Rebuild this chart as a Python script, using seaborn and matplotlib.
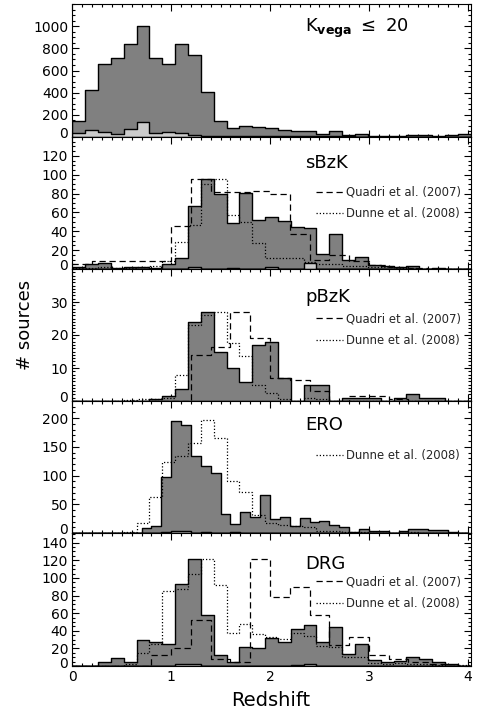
import numpy as np
import pandas as pd
import matplotlib
matplotlib.use("Agg")
import matplotlib.pyplot as plt
import seaborn as sns
from matplotlib.lines import Line2D
from matplotlib.ticker import MultipleLocator, FixedLocator
from matplotlib.transforms import ScaledTranslation

# ---------------- data (counts per bin) ----------------
BIN_MAIN = 0.13      # bin width of this work and Dunne et al.
BIN_QUADRI = 0.20    # bin width of Quadri et al.
BIN_ERO = 0.10       # bin width of the ERO sample

k20_dark = [140, 420, 660, 710, 840, 1000, 710, 660, 840, 740, 410, 140, 80, 100, 90,
            80, 60, 50, 55, 30, 50, 20, 25, 5, 5, 5, 15, 15, 5, 15, 30]
k20_light = [36, 66, 45, 30, 75, 134, 36, 45, 36, 15, 12, 10, 10, 10, 8, 8, 8, 6, 6,
             6, 5, 5, 4, 4, 4, 3, 3, 3, 3, 3, 3]

sbzk_dark = [2.5, 5, 6, 1, 2, 2, 1.5, 5, 12, 67, 95, 80, 49, 81, 52, 55, 51, 45, 44,
             16, 37, 10, 13, 4, 3, 2, 3, 0.5, 1, 0.5, 0]
sbzk_light = [0.5, 0.5, 0.5, 0.5, 0.5, 0.5, 0.5, 0.5, 0.5, 2, 0.5, 0.5, 1.5, 0.5, 0.5,
              2, 0.5, 0.5, 6, 0.5, 0.5, 0.5, 0.5, 0, 0, 0, 0, 0, 0, 0, 0]
sbzk_dunne = [1, 1, 2, 1, 1, 2, 3, 8, 29, 47, 90, 95, 57, 50, 28, 12, 12, 12, 7, 5, 5,
              3, 3, 2, 2, 1, 1, 0.5, 0.5, 0.5, 0]
sbzk_quadri = [5, 8, 8, 8, 8, 46, 95, 82, 82, 83, 80, 37, 10, 15, 8, 4, 2, 1, 0.5, 0.5]

pbzk_dark = [0, 0, 0, 0, 0, 0, 0.7, 1.5, 3.5, 24, 27, 15, 10, 5.7, 17, 18, 7, 0, 4.7,
             4.7, 0, 1, 1, 1, 0, 1, 2, 1, 1, 0, 0]
pbzk_dunne = [0, 0, 0, 0, 0.3, 0.5, 0.5, 1, 8, 23, 26, 27, 17.5, 13.5, 5, 2.5, 0.5, 0,
              1, 0.5, 0, 0, 0, 0, 0, 0, 0, 0, 0, 0, 0]
pbzk_quadri = [0, 0, 0, 0, 0, 0, 14, 16.5, 27, 19, 7, 6.5, 3, 0, 1.5, 1.5, 0.5, 0, 0, 0]

ero_dark = [0, 0, 0, 0, 0, 0, 0, 8, 13, 97, 196, 188, 134, 116, 104, 33, 16, 37, 28, 66,
            24, 28, 13, 26, 19, 21, 14, 11, 1, 7, 3, 3, 0, 4, 7, 7, 5, 5, 1, 0.5]
ero_light = [0, 0, 0, 0, 0, 0, 0, 0, 0, 2, 4, 4, 0, 2, 0, 0, 2, 0, 0, 0,
             0, 0, 0, 0, 0, 0, 0, 0, 0, 0, 0, 0, 0, 0, 0, 0, 0, 0, 0, 0]
ero_dunne = [0, 0, 0, 0, 1, 18, 63, 124, 135, 157, 197, 165, 91, 72, 31, 17, 14, 13, 10,
             3.5, 3, 2, 1, 0.5, 0.5, 0.5, 1, 0.5, 0.5, 0, 0]

drg_dark = [0, 0, 4, 8.6, 5, 29, 27, 25, 93, 122, 58, 13, 5, 22, 20, 32, 27, 42, 47, 27,
            44, 14, 25, 7, 5, 6, 10, 8, 5, 2, 0]
drg_light = [0, 0, 0, 0, 0, 0, 0, 0, 2, 2, 0, 0, 0, 0, 0, 0, 0, 1.5, 2, 0,
             0, 0, 0, 0, 0, 0, 0, 0, 0, 0, 0]
drg_dunne = [0, 0, 0, 0, 2, 15, 25, 85, 87, 105, 122, 92, 38, 48, 36, 33, 31, 37, 34, 23,
             22, 10, 10, 3, 2, 3, 2, 2, 1, 0.5, 1]
drg_quadri = [0, 0, 0, 0, 12, 20, 52, 8, 4, 122, 78, 90, 58, 24, 33, 13, 8, 5, 2, 0]

panel_names = [r"K$_{\bf vega}$ $\leq$ 20", "sBzK", "pBzK", "ERO", "DRG"]
x_ticks = [0, 1, 2, 3, 4]
y_limits = [1200, 140, 40, 230, 151]
y_ticks = [[0, 200, 400, 600, 800, 1000], [0, 20, 40, 60, 80, 100, 120],
           [0, 10, 20, 30], [0, 50, 100, 150, 200], [0, 20, 40, 60, 80, 100, 120, 140]]
y_minor = [50, 5, 1, 10, 5]
lab_quadri = "Quadri et al. (2007)"
lab_dunne = "Dunne et al. (2008)"

# ---------------- style ----------------
sns.set_theme(style="ticks")
plt.rcParams['font.family'] = ['DejaVu Sans']
plt.rcParams['axes.linewidth'] = 0.8

DARK = "#808080"
LIGHT = "#cccccc"
DASH = (0, (5, 3))
DOT = (0, (1, 1.6))


def edges(width, n):
    return [round(k * width, 3) for k in range(n + 1)]


def hist(ax, counts, width, fill=None, ls="-", lw=1.0):
    e = edges(width, len(counts))
    centers = [(e[k] + e[k + 1]) / 2 for k in range(len(counts))]
    df = pd.DataFrame({"z": centers, "n": counts})
    if fill is not None:
        sns.histplot(data=df, x="z", weights="n", bins=e, element="step", fill=True,
                     color=fill, facecolor=fill, edgecolor="black", linewidth=lw,
                     alpha=1, ax=ax)
    else:
        sns.histplot(data=df, x="z", weights="n", bins=e, element="step", fill=False,
                     color="black", linestyle=ls, linewidth=0.9, ax=ax)


fig = plt.figure(figsize=(4.78, 7.15), dpi=100)
W, H = 478.0, 715.0
left_px, right_px = 72.3, 470.7
tops = [4, 137, 269, 401, 533]
bots = [137, 269, 401, 533, 666]

axes = []
for i in range(5):
    ax = fig.add_axes([left_px / W, 1 - bots[i] / H, (right_px - left_px) / W,
                       (bots[i] - tops[i]) / H])
    axes.append(ax)

# panel 1
hist(axes[0], k20_dark, BIN_MAIN, fill=DARK)
hist(axes[0], k20_light, BIN_MAIN, fill=LIGHT)
# panel 2
hist(axes[1], sbzk_dark, BIN_MAIN, fill=DARK)
hist(axes[1], sbzk_light, BIN_MAIN, fill=LIGHT)
hist(axes[1], sbzk_quadri, BIN_QUADRI, ls=DASH)
hist(axes[1], sbzk_dunne, BIN_MAIN, ls=DOT)
# panel 3
hist(axes[2], pbzk_dark, BIN_MAIN, fill=DARK)
hist(axes[2], pbzk_quadri, BIN_QUADRI, ls=DASH)
hist(axes[2], pbzk_dunne, BIN_MAIN, ls=DOT)
# panel 4
hist(axes[3], ero_dark, BIN_ERO, fill=DARK)
hist(axes[3], ero_light, BIN_ERO, fill=LIGHT)
hist(axes[3], ero_dunne, BIN_MAIN, ls=DOT)
# panel 5
hist(axes[4], drg_dark, BIN_MAIN, fill=DARK)
hist(axes[4], drg_light, BIN_MAIN, fill=LIGHT)
hist(axes[4], drg_quadri, BIN_QUADRI, ls=DASH)
hist(axes[4], drg_dunne, BIN_MAIN, ls=DOT)

name_y = [0.82, 0.80, 0.79, 0.82, 0.77]
leg_y = [None, 0.50, 0.54, 0.59, 0.55]
h_q = Line2D([], [], color="black", linestyle=DASH, linewidth=0.9)
h_d = Line2D([], [], color="black", linestyle=DOT, linewidth=0.9)

for i, ax in enumerate(axes):
    ax.set_xlim(0, 4.03)
    ax.set_ylim(0, y_limits[i])
    ax.set_xlabel("")
    ax.set_ylabel("")
    ax.xaxis.set_major_locator(FixedLocator(x_ticks))
    ax.xaxis.set_minor_locator(MultipleLocator(0.1))
    ax.yaxis.set_major_locator(FixedLocator(y_ticks[i]))
    ax.yaxis.set_minor_locator(MultipleLocator(y_minor[i]))
    ax.tick_params(which="both", direction="in", top=True, right=True,
                   width=0.8, color="black", labelsize=10, labelcolor="black", pad=3)
    ax.tick_params(which="major", length=5)
    ax.tick_params(which="minor", length=2.5)
    for s in ax.spines.values():
        s.set_color("black")
        s.set_linewidth(0.8)
        s.set_zorder(5)
    if i < 4:
        ax.tick_params(labelbottom=False)
    # lift the "0" label a little, as in the original plot
    zero_lab = ax.yaxis.get_majorticklabels()[0]
    zero_lab.set_transform(zero_lab.get_transform() +
                           ScaledTranslation(0, 4 / 100, fig.dpi_scale_trans))
    ax.text(0.584, name_y[i], panel_names[i], transform=ax.transAxes, fontsize=13,
            va="center", ha="left", color="black")
    if i in (1, 2, 4):
        ax.legend([h_q, h_d], [lab_quadri, lab_dunne], loc="center left",
                  bbox_to_anchor=(0.612, leg_y[i]), frameon=False, fontsize=8.4,
                  handlelength=2.3, handletextpad=0.3, borderpad=0, borderaxespad=0,
                  labelspacing=0.75)
    elif i == 3:
        ax.legend([h_d], [lab_dunne], loc="center left",
                  bbox_to_anchor=(0.612, leg_y[i]), frameon=False, fontsize=8.4,
                  handlelength=2.3, handletextpad=0.3, borderpad=0, borderaxespad=0)

fig.text(25 / W, 1 - 325 / H, "# sources", rotation=90, va="center", ha="center",
         fontsize=13, color="black")
fig.text(271 / W, 1 - 700 / H, "Redshift", va="center", ha="center",
         fontsize=14, color="black")

fig.savefig("out.png", dpi=100)
